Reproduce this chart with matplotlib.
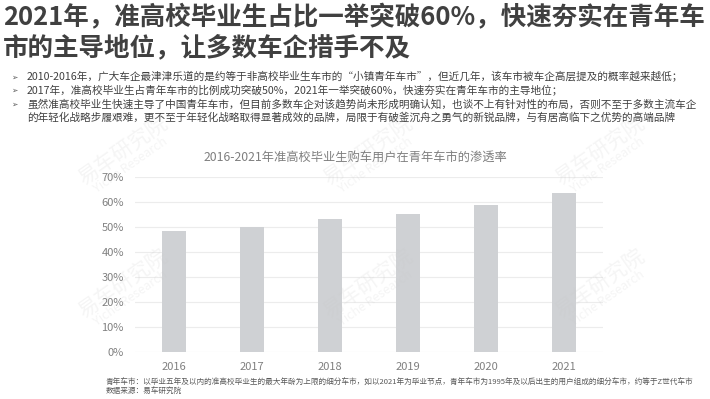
import numpy as np
import matplotlib
matplotlib.use("Agg")
import matplotlib.pyplot as plt

plt.rcParams["font.family"] = ["Noto Sans CJK SC", "DejaVu Sans"]

# data
years = ["2016", "2017", "2018", "2019", "2020", "2021"]
share = [0.482, 0.501, 0.533, 0.551, 0.586, 0.634]
yticks = [0, 0.1, 0.2, 0.3, 0.4, 0.5, 0.6, 0.7]
ytick_labels = ["0%", "10%", "20%", "30%", "40%", "50%", "60%", "70%"]

title_lines = [
    "2021年，准高校毕业生占比一举突破60%，快速夯实在青年车",
    "市的主导地位，让多数车企措手不及",
]
bullets = [
    "2010-2016年，广大车企最津津乐道的是约等于非高校毕业生车市的“小镇青年车市”，但近几年，该车市被车企高层提及的概率越来越低；",
    "2017年，准高校毕业生占青年车市的比例成功突破50%，2021年一举突破60%，快速夯实在青年车市的主导地位；",
    "虽然准高校毕业生快速主导了中国青年车市，但目前多数车企对该趋势尚未形成明确认知，也谈不上有针对性的布局，否则不至于多数主流车企",
]
bullet_cont = "的年轻化战略步履艰难，更不至于年轻化战略取得显著成效的品牌，局限于有破釜沉舟之勇气的新锐品牌，与有居高临下之优势的高端品牌"
chart_title = "2016-2021年准高校毕业生购车用户在青年车市的渗透率"
notes = [
    "青年车市：以毕业五年及以内的准高校毕业生的最大年龄为上限的细分车市，如以2021年为毕业节点，青年车市为1995年及以后出生的用户组成的细分车市，约等于Z世代车市",
    "数据来源：易车研究院",
]

W, H = 710, 399
fig = plt.figure(figsize=(W / 100, H / 100), dpi=100)
fig.patch.set_facecolor("white")


def fx(px):
    return px / W


def fy(py):
    return 1 - py / H


# header
for i, line in enumerate(title_lines):
    fig.text(fx(3), fy(18 + i * 30), line, fontsize=18.4, fontweight="bold",
             color="#404040", va="center", ha="left")

line_y = [77, 90.5, 104, 117.5]
for i, b in enumerate(bullets):
    fig.text(fx(14), fy(line_y[i]), "➢", fontsize=5.5, color="#595959",
             va="center", ha="center", family=["DejaVu Sans"])
    fig.text(fx(27), fy(line_y[i]), b, fontsize=7.65, color="#404040",
             va="center")
fig.text(fx(27), fy(line_y[3]), bullet_cont, fontsize=7.65, color="#404040",
         va="center")

# watermarks
for wx in (123, 368, 600):
    for wy in (157, 290):
        fig.text(fx(wx), fy(wy - 6), "易车研究院", fontsize=15, color="#c8c8c8",
                 alpha=0.18, rotation=35, ha="center", va="center")
        fig.text(fx(wx + 8), fy(wy + 8), "Yiche Research", fontsize=9,
                 color="#c8c8c8", alpha=0.18, rotation=35, ha="center",
                 va="center")

# chart
ax = fig.add_axes([fx(135), fy(352.3), fx(603) - fx(135), fy(176.7) - fy(352.3)])
x = np.arange(len(years))
ax.bar(x, share, width=0.31, color="#cfd1d4", zorder=2)
ax.set_xlim(-0.5, len(years) - 0.5)
ax.set_ylim(0, 0.7)
ax.set_yticks(yticks)
ax.set_yticklabels(ytick_labels)
ax.set_xticks(x)
ax.set_xticklabels(years)
ax.grid(axis="y", color="#ececec", linewidth=0.8, zorder=0)
for s in ax.spines.values():
    s.set_visible(False)
ax.tick_params(length=0, labelsize=8, colors="#808080")
ax.tick_params(axis="y", pad=8)
ax.tick_params(axis="x", pad=7)
ax.set_facecolor("none")

fig.text(fx(355), fy(158), chart_title, fontsize=8.8, color="#7f7f7f",
         ha="center", va="center")

for i, n in enumerate(notes):
    fig.text(fx(106), fy(383 + i * 9), n, fontsize=5.5, color="#595959",
             va="center")

fig.savefig("out.png", dpi=100)
